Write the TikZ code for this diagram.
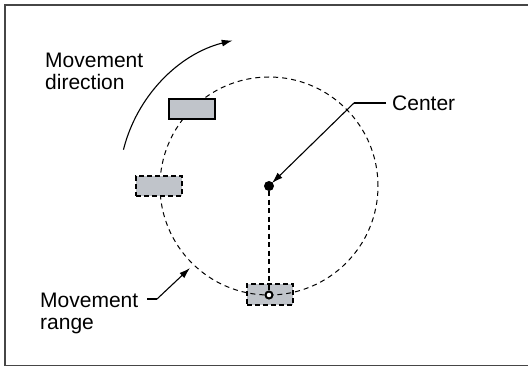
\documentclass[tikz,border=0pt]{standalone}
\usepackage{fontspec}
\setmainfont{Liberation Sans}
\usetikzlibrary{arrows.meta,calc}
\definecolor{boxgray}{RGB}{192,196,202}
\definecolor{framegray}{RGB}{70,70,70}
\begin{document}
\begin{tikzpicture}[x=1pt,y=1pt,
  lbl/.style={font=\fontsize{21}{22.5}\selectfont, align=left, inner sep=0pt},
  solidbox/.style={draw=black, line width=1.3pt, fill=boxgray, minimum width=46pt, minimum height=20pt, inner sep=0pt},
  dashbox/.style={solidbox, dash pattern=on 5pt off 3pt},
  rangeline/.style={line width=1pt, dash pattern=on 5pt off 4pt},
  leader/.style={line width=1.1pt},
  tip/.style={-{Latex[length=11pt,width=7pt]}}
]
\useasboundingbox (0,0) rectangle (528,367);
\draw[framegray, line width=1.5pt] (5,1.5) rectangle (530,362);

% bottom box first so the range circle shows over it
\node[dashbox, minimum height=21pt] (bot) at (270,72.5) {};
\coordinate (C) at (269,181);
\draw[rangeline] (C) circle[radius=109];
\node[solidbox] (top) at (192,258) {};
\node[dashbox] (left) at (159,181) {};

% centre dot, radius line, pivot
\node[circle, fill=black, inner sep=0pt, minimum size=10pt] (dot) at (C) {};
\node[circle, draw=black, fill=white, line width=2pt, inner sep=0pt, minimum size=7pt] (pivot) at (269,72) {};
\draw[line width=1.1pt, dash pattern=on 5pt off 3.5pt] (dot) -- (pivot);

% movement direction arrow
\coordinate (arcstart) at ($(C)+(166:150)$);
\draw[leader, tip] (arcstart) arc[start angle=166, end angle=104, radius=150];
\node[lbl, anchor=base west] (dir) at (45,277) {Movement\\direction};

% center label
\node[lbl, anchor=base west] (ctr) at (392,256) {Center};
\coordinate (cel) at (354,264);
\coordinate (ce0) at (386,264);
\draw[leader] (ce0) -- (cel);
\draw[leader, tip, shorten >=-1pt] (cel) -- (dot);

% movement range label
\node[lbl, anchor=base west] (rng) at (40,37) {Movement\\range};
\coordinate (re0) at (147,68);
\coordinate (rel) at (157,68);
\coordinate (rtip) at (190,99);
\draw[leader] (re0) -- (rel);
\draw[leader, tip] (rel) -- (rtip);
\end{tikzpicture}
\end{document}
